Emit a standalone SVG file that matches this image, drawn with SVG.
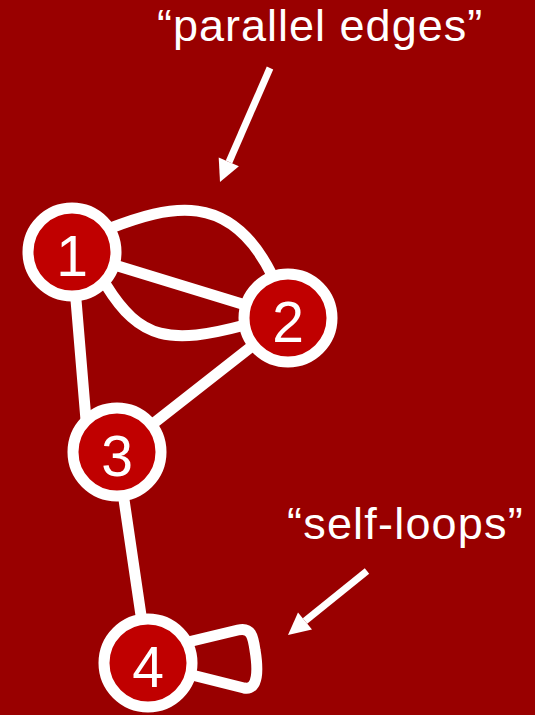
<svg xmlns="http://www.w3.org/2000/svg" width="535" height="715" viewBox="0 0 535 715">
<defs>
<style>
.edge{fill:none;stroke:#fff;stroke-width:11;stroke-linecap:round;stroke-linejoin:round}
.node circle{fill:#c00000;stroke:#fff;stroke-width:11}
.node text{fill:#fff;font-family:"Liberation Sans",Arial,sans-serif;font-size:57px;text-anchor:middle}
.label{fill:#fff;font-family:"Liberation Sans",Arial,sans-serif;font-size:45px}
.arrow{stroke:#fff;stroke-width:7;fill:none}
.head{fill:#fff;stroke:none}
</style>
</defs>
<rect width="535" height="715" fill="#990000"/>
<text class="label" x="157" y="41" letter-spacing="1">“parallel edges”</text>
<text class="label" x="287" y="539" letter-spacing="1.2">“self-loops”</text>
<g id="arrows">
<line class="arrow" x1="270" y1="68" x2="229" y2="162"/>
<polygon class="head" points="220,182 218.7,157.4 238.9,166.2"/>
<line class="arrow" x1="367" y1="571" x2="305" y2="621"/>
<polygon class="head" points="288,635 298,612.5 312,629.5"/>
</g>
<g id="connectors">
<path class="edge" d="M72,252 L288,318"/>
<path class="edge" d="M108,229 C170,205 230,190 272,275"/>
<path class="edge" d="M106,285 C140,340 170,345 245,325"/>
<path class="edge" d="M72,252 L86,420"/>
<path class="edge" d="M288,318 L117,452"/>
<path class="edge" d="M117,452 L148,663"/>
<path class="edge" d="M188,642 L238,630 C251,627 253,636 255,650 C258,668 259,691 244,688 L188,674"/>
</g>
<g id="node1" class="node"><circle cx="72" cy="252" r="44"/><text x="72" y="276">1</text></g>
<g id="node2" class="node"><circle cx="288" cy="318" r="44"/><text x="288" y="342">2</text></g>
<g id="node3" class="node"><circle cx="117" cy="452" r="44"/><text x="117" y="476">3</text></g>
<g id="node4" class="node"><circle cx="148" cy="663" r="44"/><text x="148" y="687">4</text></g>
</svg>
